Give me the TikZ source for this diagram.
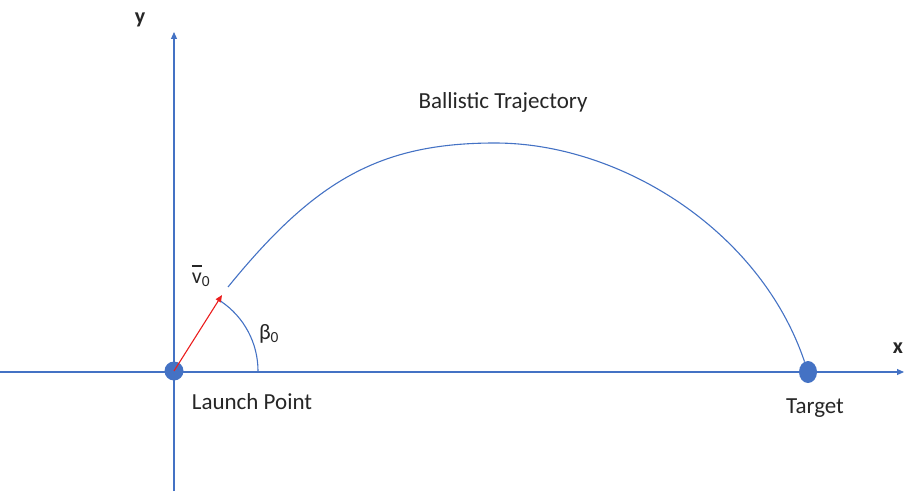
\documentclass[tikz,border=0pt]{standalone}
\usepackage{fontspec}
\setmainfont{Carlito}
\usepackage{xcolor}
\usetikzlibrary{arrows.meta, shapes.geometric, positioning}
\definecolor{lineblue}{RGB}{68,114,196}
\definecolor{velred}{RGB}{235,30,30}

\begin{document}
\begin{tikzpicture}[
    x = 1pt, y = 1pt,
    node distance = 36pt,
    axis/.style = {draw=lineblue, line width=1.1pt, -{Triangle[length=7pt, width=6pt]}},
    curve/.style = {draw=lineblue, line width=1.1pt},
    dot/.style = {circle, fill=lineblue, minimum size=19pt, inner sep=0pt},
    txt/.style = {font=\fontsize{23}{27}\selectfont, text=black!85, inner sep=0pt},
    small/.style = {font=\fontsize{22}{26}\selectfont, text=black!85, inner sep=0pt},
    arrow/.style = {draw=velred, line width=1.1pt, -{Triangle[length=7pt, width=6pt]}}
]
\useasboundingbox (0,0) rectangle (904,491);

% Axes
\coordinate (xstart) at (0,119);
\coordinate (xend) at (904,119);
\coordinate (ystart) at (174,0);
\coordinate (yend) at (174,459);
\draw [axis] (xstart) -- (xend);
\draw [axis] (ystart) -- (yend);
\node (xlbl) [txt, font=\fontsize{22}{26}\selectfont\bfseries] at (898,143) {x};
\node (ylbl) [txt, font=\fontsize{22}{26}\selectfont\bfseries] at (140,471) {y};

% Points
\node (launch) [dot] at (174,120) {};
\node (target) [dot, ellipse, minimum width=18pt, minimum height=22pt] at (808,119) {};
\node (launchlbl) [txt, below of=launch, xshift=78pt, yshift=5pt] {Launch Point};
\node (targetlbl) [txt, below of=target, xshift=7pt] {Target};

% Trajectory
\coordinate (start) at (228,204);
\coordinate (peak) at (495,348);
\draw [curve] (start) .. controls (315,311) and (380,348) .. (peak)
    .. controls (620,348) and (760,261) .. (target);
\node (traj) [txt] at (503,389) {Ballistic Trajectory};

% Launch velocity and angle
\coordinate (vtip) at (222,196);
\draw [arrow] (launch.center) -- (vtip);
\draw [curve] (launch.center) ++(0:84pt) arc[start angle=0, end angle=56, radius=84pt];
\node (vlbl) [small] at (201,215) {\rlap{\rule[17pt]{10.5pt}{1.3pt}}v\textsubscript{0}};
\node (beta) [small] at (269,157) {β\textsubscript{0}};

\end{tikzpicture}
\end{document}
